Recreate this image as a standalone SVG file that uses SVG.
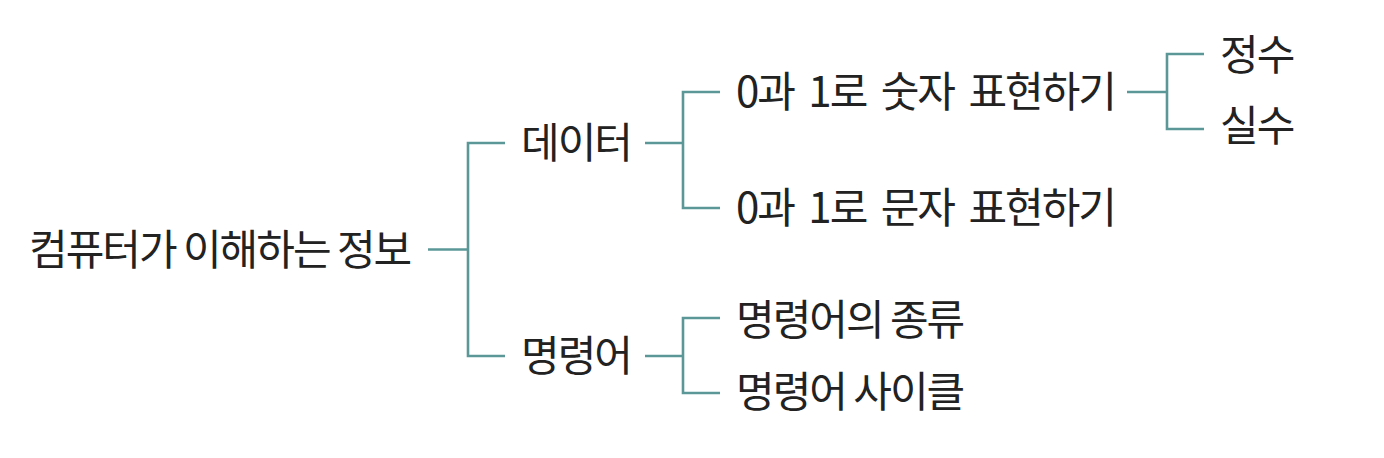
<svg xmlns="http://www.w3.org/2000/svg" width="1384" height="458" viewBox="0 0 1384 458">
<style>
.c{fill:none;stroke:#5b9797;stroke-width:2.6}
.t{font-family:"Noto Sans CJK KR","Noto Sans",sans-serif;font-size:42px;fill:#222;letter-spacing:-2px}
.w{word-spacing:7px}
</style>
<rect width="1384" height="458" fill="#fff"/>
<g id="connectors">
<path class="c" d="M428 249.5H468"/>
<path class="c" d="M505 143H468V356H505"/>
<path class="c" d="M645 143H683"/>
<path class="c" d="M720 92H683V208H720"/>
<path class="c" d="M645 356H683"/>
<path class="c" d="M720 318H683V393H720"/>
<path class="c" d="M1127 92H1167"/>
<path class="c" d="M1204 54H1167V129H1204"/>
</g>
<g id="root"><text class="t" x="29" y="265">컴퓨터가 이해하는 정보</text></g>
<g id="data"><text class="t" x="521" y="158">데이터</text></g>
<g id="instr"><text class="t" x="521" y="371">명령어</text></g>
<g id="num"><text class="t w" x="736" y="107">0과 1로 숫자 표현하기</text></g>
<g id="char"><text class="t w" x="736" y="223">0과 1로 문자 표현하기</text></g>
<g id="kinds"><text class="t" x="736" y="335">명령어의 종류</text></g>
<g id="cycle"><text class="t" x="736" y="407">명령어 사이클</text></g>
<g id="int"><text class="t" x="1220" y="70">정수</text></g>
<g id="real"><text class="t" x="1220" y="141">실수</text></g>
</svg>
